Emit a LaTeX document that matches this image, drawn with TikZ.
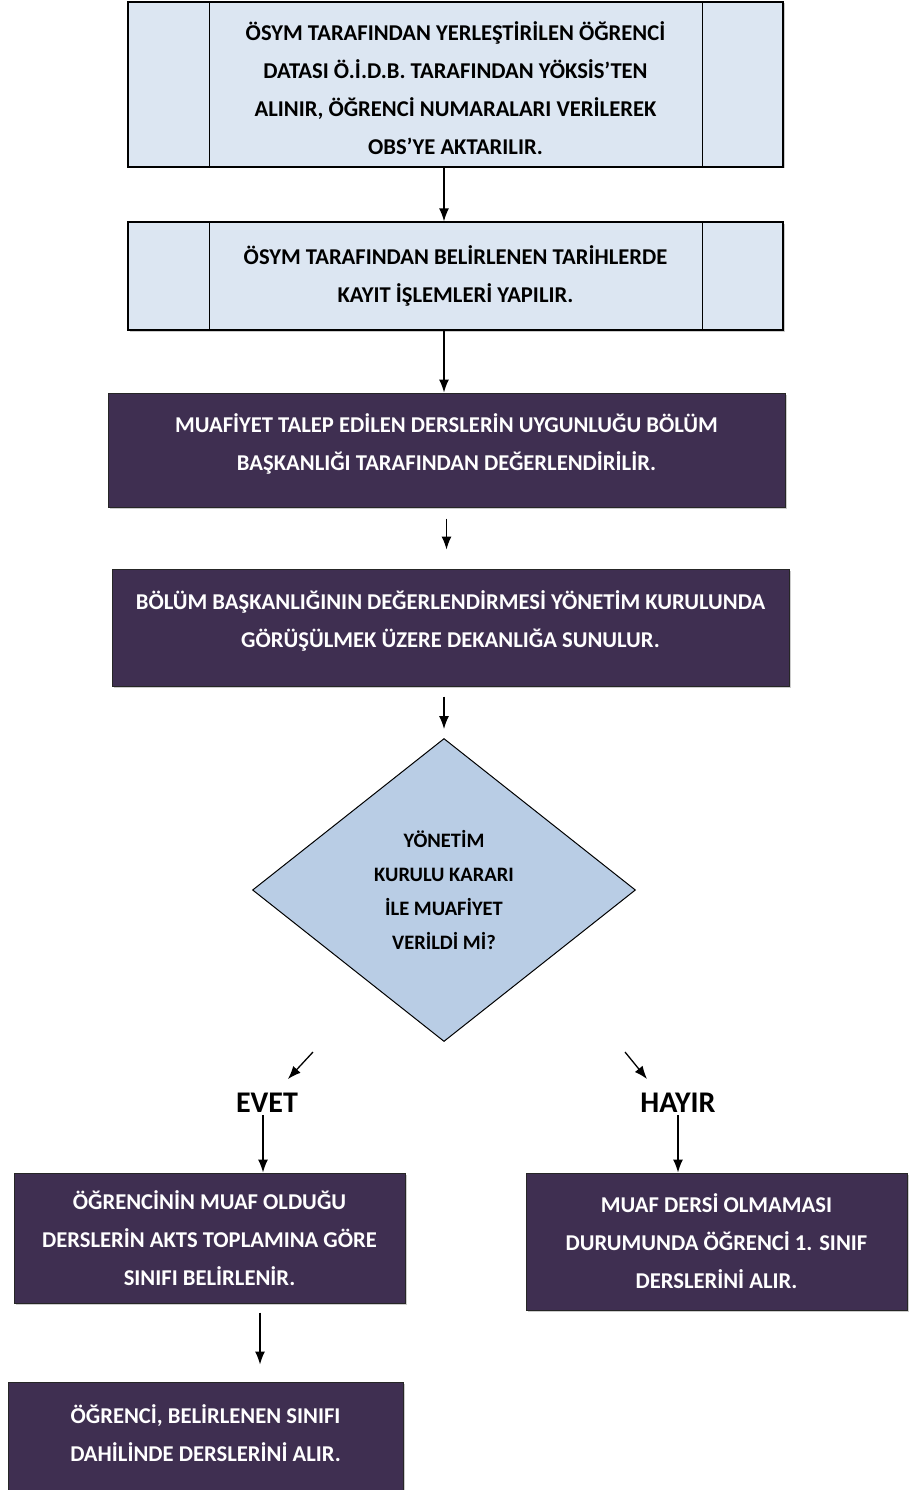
\documentclass[tikz,border=0pt]{standalone}
\usepackage{fontspec}
\setmainfont{Carlito}
\usetikzlibrary{arrows.meta,shapes.geometric,shadows}
\definecolor{procfill}{HTML}{DCE6F2}
\definecolor{actfill}{HTML}{3F2F51}
\definecolor{askfill}{HTML}{B9CDE5}
\tikzstyle{proc}=[rectangle,draw=black,line width=1.3pt,fill=procfill,text=black,align=center,inner sep=0pt,font=\bfseries\fontsize{22.6}{38}\selectfont,drop shadow={shadow xshift=1.5pt,shadow yshift=-1.5pt,opacity=0.4}]
\tikzstyle{act}=[rectangle,draw=black!85,line width=1pt,fill=actfill,text=white,align=center,inner sep=0pt,font=\bfseries\fontsize{22.6}{38}\selectfont,drop shadow={shadow xshift=1.5pt,shadow yshift=-1.5pt,opacity=0.4}]
\tikzstyle{ask}=[diamond,draw=black,line width=1pt,fill=askfill,align=center,inner sep=0pt,font=\bfseries\fontsize{20.5}{34}\selectfont]
\tikzstyle{answer}=[inner sep=2pt,font=\bfseries\fontsize{30}{34}\selectfont]
\tikzstyle{arr}=[-{Latex[length=13pt,width=10pt]},line width=1.3pt]

\begin{document}
\begin{tikzpicture}[x=1pt,y=-1pt]
			\useasboundingbox (0,0) rectangle (908,1490);
			
			\node (b1) at (455.5,84.5) [proc,minimum width=655,minimum height=165] {\mbox{}\\[-12pt]ÖSYM TARAFINDAN YERLEŞTİRİLEN ÖĞRENCİ\\DATASI Ö.İ.D.B. TARAFINDAN YÖKSİS’TEN\\ALINIR, ÖĞRENCİ NUMARALARI VERİLEREK\\OBS’YE AKTARILIR.};
			\node (b2) at (455.5,276) [proc,minimum width=655,minimum height=108] {ÖSYM TARAFINDAN BELİRLENEN TARİHLERDE\\KAYIT İŞLEMLERİ YAPILIR.};
			\node (b3) at (446.5,450) [act,minimum width=677,minimum height=114] {MUAFİYET TALEP EDİLEN DERSLERİN UYGUNLUĞU BÖLÜM\\BAŞKANLIĞI TARAFINDAN DEĞERLENDİRİLİR.\\[-22pt]\mbox{}};
			\node (b4) at (450.5,627.5) [act,minimum width=677,minimum height=117] {BÖLÜM BAŞKANLIĞININ DEĞERLENDİRMESİ YÖNETİM KURULUNDA\\GÖRÜŞÜLMEK ÜZERE DEKANLIĞA SUNULUR.\\[-22pt]\mbox{}};
			
			\node (q) at (444,890) [ask,minimum width=383,minimum height=303] {YÖNETİM\\KURULU KARARI\\İLE MUAFİYET\\VERİLDİ Mİ?};
			
			\node (evet) at (267,1103) [answer] {EVET};
			\node (hayir) at (678,1103) [answer] {HAYIR};
			
			\node (b5) at (209.5,1238) [act,minimum width=391,minimum height=130] {ÖĞRENCİNİN MUAF OLDUĞU\\DERSLERİN AKTS TOPLAMINA GÖRE\\SINIFI BELİRLENİR.};
			\node (b6) at (716.5,1241.5) [act,minimum width=381,minimum height=137] {MUAF DERSİ OLMAMASI\\DURUMUNDA ÖĞRENCİ 1. SINIF\\DERSLERİNİ ALIR.};
			\node (b7) at (205.5,1437) [act,minimum width=395,minimum height=110] {ÖĞRENCİ, BELİRLENEN SINIFI\\DAHİLİNDE DERSLERİNİ ALIR.\\[-30pt]\mbox{}};
			
			\coordinate (yesfrom) at (313,1052);
			\coordinate (yesto) at (288,1079);
			\coordinate (nofrom) at (625,1052);
			\coordinate (noto) at (647,1079);
			
			% side lines of the top boxes
			\draw[line width=1.3pt] ([xshift=82pt]b1.north west) -- ([xshift=82pt]b1.south west);
			\draw[line width=1.3pt] ([xshift=-81pt]b1.north east) -- ([xshift=-81pt]b1.south east);
			\draw[line width=1.3pt] ([xshift=82pt]b2.north west) -- ([xshift=82pt]b2.south west);
			\draw[line width=1.3pt] ([xshift=-81pt]b2.north east) -- ([xshift=-81pt]b2.south east);
			
			\draw[arr] (b1.south -| q.north) -- (b2.north -| q.north);
			\draw[arr] (b2.south -| q.north) -- (b3.north -| q.north);
			\draw[arr,shorten <=11pt,shorten >=19pt] (b3.south) -- (b3.south |- b4.north);
			\draw[arr,shorten <=10pt,shorten >=9pt] (q.north |- b4.south) -- (q.north);
			\draw[arr] (yesfrom) -- (yesto);
			\draw[arr] (nofrom) -- (noto);
			\draw[arr] (evet.south -| 263,0) -- (b5.north -| 263,0);
			\draw[arr] (hayir.south) -- (hayir.south |- b6.north);
			\draw[arr,shorten <=9pt,shorten >=17pt] (b5.south -| 260,0) -- (b7.north -| 260,0);
		\end{tikzpicture}
\end{document}
